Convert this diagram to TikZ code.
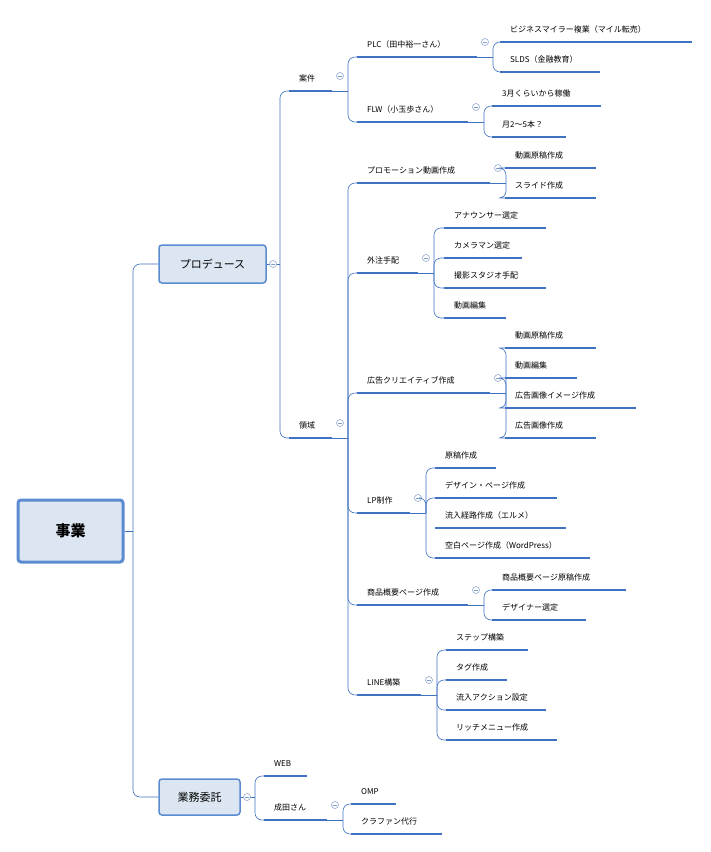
\documentclass[tikz,border=0pt]{standalone}
\usepackage{fontspec}
\setmainfont{Noto Sans CJK JP}
\usetikzlibrary{calc}
\definecolor{mapblue}{HTML}{3F72C0}
\definecolor{boxfill}{HTML}{DCE6F2}
\definecolor{boxline}{HTML}{5B8BD0}
\definecolor{toggray}{HTML}{7F9BC8}
\tikzset{
  conn/.style={draw=mapblue, line width=0.6pt, rounded corners=7pt},
  uline/.style={draw=mapblue, line width=1.6pt},
  lbl/.style={anchor=south west, inner sep=0pt, font=\fontsize{8}{9}\selectfont},
  tog/.style={circle, draw=toggray, fill=white, line width=0.5pt, minimum size=7pt, inner sep=0pt,
    path picture={\draw[toggray, line width=0.5pt] ([xshift=-2pt]path picture bounding box.center) -- ([xshift=2pt]path picture bounding box.center);}},
  box/.style={draw=boxline, fill=boxfill, rounded corners=3pt, line width=1.5pt, font=\fontsize{11}{13}\selectfont}
}
% topic: name, x start, x end, y, text
\newcommand{\topic}[5]{%
  \coordinate (#1) at (#2,#4); \coordinate (#1e) at (#3,#4);
  \draw[uline] (#1) -- (#1e);
  \node[lbl] (#1t) at ($(#1)+(10,-9)$) {#5};}
% hub after a topic
\newcommand{\hub}[1]{%
  \coordinate (#1h) at ($(#1e)+(16,0)$);
  \draw[conn] (#1e) -- (#1h);
  \node[tog] (#1c) at ($(#1e)+(8,-15)$) {};}

\begin{document}
\begin{tikzpicture}[x=1pt,y=-1pt]
\useasboundingbox (0,0) rectangle (711,852);

% main boxes
\node[box, line width=3pt, minimum width=105pt, minimum height=62pt, font=\fontsize{15}{17}\selectfont\bfseries] (root) at (70.5,531) {事業};
\node[box, minimum width=107pt, minimum height=38pt] (prod) at (212.5,264) {プロデュース};
\node[box, minimum width=81pt, minimum height=36pt] (gyomu) at (199.5,797) {業務委託};

\coordinate (rooth) at (133,531);
\draw[conn] (root.east) -- (rooth);
\draw[conn] (rooth) |- (prod.west);
\draw[conn] (rooth) |- (gyomu.west);

% プロデュース
\topic{anken}{289}{332}{91}{案件}
\topic{ryoiki}{289}{332}{438}{領域}
\coordinate (prodh) at (280,264);
\draw[conn] (prod.east) -- (prodh);
\foreach \c in {anken,ryoiki} \draw[conn] (prodh) |- (\c);
\node[tog] (prodc) at (273,264) {};

% 案件
\topic{plc}{357}{477}{57}{PLC（田中裕一さん）}
\topic{flw}{357}{468}{122}{FLW（小玉歩さん）}
\hub{anken}
\foreach \c in {plc,flw} \draw[conn] (ankenh) |- (\c);

\topic{bm}{500}{692}{42}{ビジネスマイラー複業（マイル転売）}
\topic{slds}{500}{600}{72}{SLDS（金融教育）}
\hub{plc}
\foreach \c in {bm,slds} \draw[conn] (plch) |- (\c);

\topic{kado}{492}{601}{106}{3月くらいから稼働}
\topic{tsuki}{492}{566}{137}{月2〜5本？}
\hub{flw}
\foreach \c in {kado,tsuki} \draw[conn] (flwh) |- (\c);

% 領域
\topic{promo}{357}{490}{183}{プロモーション動画作成}
\topic{gaichu}{357}{418}{273}{外注手配}
\topic{kokoku}{357}{490}{393}{広告クリエイティブ作成}
\topic{lp}{357}{410}{513}{LP制作}
\topic{shohin}{357}{468}{605}{商品概要ページ作成}
\topic{linek}{357}{421}{695}{LINE構築}
\hub{ryoiki}
\foreach \c in {promo,gaichu,kokoku,lp,shohin,linek} \draw[conn] (ryoikih) |- (\c);

\topic{pra}{505}{596}{168}{動画原稿作成}
\topic{prb}{505}{596}{198}{スライド作成}
\hub{promo}
\foreach \c in {pra,prb} \draw[conn] (promoh) |- (\c);

\topic{gca}{444}{546}{228}{アナウンサー選定}
\topic{gcb}{444}{522}{258}{カメラマン選定}
\topic{gcc}{444}{546}{288}{撮影スタジオ手配}
\topic{gcd}{444}{506}{318}{動画編集}
\hub{gaichu}
\foreach \c in {gca,gcb,gcc,gcd} \draw[conn] (gaichuh) |- (\c);

\topic{kka}{505}{596}{348}{動画原稿作成}
\topic{kkb}{505}{577}{378}{動画編集}
\topic{kkc}{505}{636}{408}{広告画像イメージ作成}
\topic{kkd}{505}{596}{438}{広告画像作成}
\hub{kokoku}
\foreach \c in {kka,kkb,kkc,kkd} \draw[conn] (kokokuh) |- (\c);

\topic{lpa}{435}{496}{468}{原稿作成}
\topic{lpb}{435}{557}{498}{デザイン・ページ作成}
\topic{lpc}{435}{566}{528}{流入経路作成（エルメ）}
\topic{lpd}{435}{590}{558}{空白ページ作成（WordPress）}
\hub{lp}
\foreach \c in {lpa,lpb,lpc,lpd} \draw[conn] (lph) |- (\c);

\topic{sha}{492}{626}{590}{商品概要ページ原稿作成}
\topic{shb}{492}{586}{620}{デザイナー選定}
\hub{shohin}
\foreach \c in {sha,shb} \draw[conn] (shohinh) |- (\c);

\topic{lna}{446}{528}{650}{ステップ構築}
\topic{lnb}{446}{507}{680}{タグ作成}
\topic{lnc}{446}{546}{710}{流入アクション設定}
\topic{lnd}{446}{557}{740}{リッチメニュー作成}
\hub{linek}
\foreach \c in {lna,lnb,lnc,lnd} \draw[conn] (linekh) |- (\c);

% 業務委託
\topic{web}{264}{307}{776}{WEB}
\topic{narita}{264}{327}{820}{成田さん}
\coordinate (gyomuh) at (255,797);
\draw[conn] (gyomu.east) -- (gyomuh);
\foreach \c in {web,narita} \draw[conn] (gyomuh) |- (\c);
\node[tog] (gyomuc) at (247,797) {};

\topic{omp}{351}{396}{804}{OMP}
\topic{kura}{351}{442}{834}{クラファン代行}
\hub{narita}
\foreach \c in {omp,kura} \draw[conn] (naritah) |- (\c);
\end{tikzpicture}
\end{document}
